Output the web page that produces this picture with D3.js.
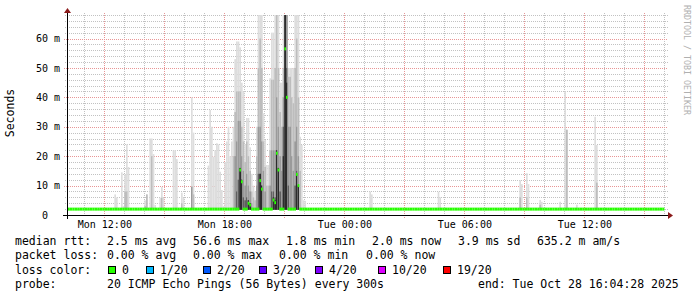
<!DOCTYPE html>
<html>
<head>
<meta charset="utf-8">
<script src="https://cdn.jsdelivr.net/npm/d3@7"></script>
<style>
body { margin: 0; background: #fff; }
text { font-family: "DejaVu Sans Mono", monospace; }
</style>
</head>
<body>
<div id="chart"></div>
<script>
// time window of the graph (day-of-month + time, Oct 2025)
const startTime = "27 10:08";
const endTime = "28 16:08";

// y axis labels (ms)
const yTicks = [0, 10, 20, 30, 40, 50, 60];

// median rtt baseline (ms) and the steps where it moved off the baseline
const medianBase = 2.0;
const medianTimes = ["27 18:45", "27 18:50", "27 19:10", "27 19:15", "27 19:45", "27 19:50",
  "27 20:25", "27 20:30", "27 20:35", "27 20:40", "27 21:00", "27 21:05", "27 21:35", "27 21:40"];
const medianValues = [15.3, 11.3, 4.0, 3.4, 11.7, 8.8, 5.1, 4.2, 21, 15.3, 56.5, 40, 13.8, 10];

// smoke: 5 minute steps, band tops in ms from outer (light) to inner (dark)
const smokeTimes = [
  "27 12:30", "27 12:35", "27 12:50", "27 12:55", "27 13:00", "27 13:05", "27 13:10",
  "27 14:00", "27 14:05", "27 14:15", "27 14:20", "27 14:25", "27 14:30",
  "27 14:45", "27 14:50", "27 14:55", "27 15:25", "27 15:30", "27 15:35", "27 15:50", "27 15:55",
  "27 16:20", "27 16:25",
  "27 17:10", "27 17:15", "27 17:20", "27 17:25", "27 17:30", "27 17:35", "27 17:40", "27 17:45", "27 17:50", "27 17:55",
  "27 18:00", "27 18:05", "27 18:10", "27 18:15", "27 18:20", "27 18:25", "27 18:30", "27 18:35", "27 18:40",
  "27 18:45", "27 18:50", "27 18:55", "27 19:00", "27 19:05", "27 19:10", "27 19:15", "27 19:20", "27 19:25",
  "27 19:30", "27 19:35", "27 19:40", "27 19:45", "27 19:50", "27 19:55", "27 20:00", "27 20:05", "27 20:10",
  "27 20:15", "27 20:20", "27 20:25", "27 20:30", "27 20:35", "27 20:40", "27 20:45", "27 20:50", "27 20:55",
  "27 21:00", "27 21:05", "27 21:10", "27 21:15", "27 21:20", "27 21:25", "27 21:30", "27 21:35", "27 21:40",
  "27 21:45", "27 21:50", "27 21:55", "27 22:00",
  "28 01:15", "28 01:20", "28 04:40", "28 04:45",
  "28 08:45", "28 08:50", "28 09:05", "28 09:10", "28 09:45", "28 09:50", "28 10:45",
  "28 11:00", "28 11:05", "28 11:35", "28 12:30", "28 12:35"
];
const smokeBands = [
  [7], [6], [14.5], [3], [13.8, 8], [24, 8], [16.3],
  [5, 3], [7, 7], [26], [26, 20], [20.7], [3.4],
  [5.9], [9.5, 5.9], [5.9], [22], [22], [19], [7.6, 4], [5.9],
  [40, 9.6, 9.6], [28, 7],
  [16.8], [35.7], [30], [19.8], [22], [24.4], [24], [14.7], [8.5], [3],
  [18], [25], [30], [20], [25], [30, 20], [53, 35, 20], [59, 42, 25, 8], [59, 42, 32, 12],
  [57, 42, 32, 16, 16], [45, 30, 20, 12, 12], [42, 25, 15, 6], [24, 18, 10, 5], [33, 25, 14, 6],
  [33, 20, 10, 5, 5], [23, 15, 8, 4, 4], [14, 8, 4], [10, 6],
  [8, 5], [30, 20, 10], [68, 50, 30, 14], [68, 60, 30, 14, 14], [68, 50, 25, 10, 10],
  [34.6, 25, 15], [25.5, 16.4, 8], [17, 10], [17, 10],
  [46.5, 22, 10], [62, 46, 22, 8], [62, 46, 22, 8, 6], [68, 50, 22, 6, 5], [68, 68, 40, 22, 22],
  [68, 50, 30, 16, 16], [45, 35, 20, 8], [45, 30, 15], [68, 50, 40, 30, 20],
  [68, 68, 68, 68, 68], [68, 68, 68, 50, 45], [50, 47, 30, 10], [50, 47, 30], [50, 40, 20],
  [50, 38, 15], [68, 50, 25, 10], [68, 60, 30, 15, 14], [68, 40, 20, 10, 10],
  [26.6, 15], [23.8], [5], [4.8],
  [8], [7], [7.9], [6],
  [11.8, 6], [10.5], [14.2, 6], [10.5], [5.1, 3.5], [4.5], [4.5],
  [42], [29, 29], [3.5], [33.4], [23.8, 11]
];
const smokeFloor = 1.8;

// legend
const rttItems = ["2.5 ms avg", "56.6 ms max", "1.8 ms min", "2.0 ms now", "3.9 ms sd", "635.2 m am/s"];
const lossItems = ["0.00 % avg", "0.00 % max", "0.00 % min", "0.00 % now"];
const lossLabels = ["0", "1/20", "2/20", "3/20", "4/20", "10/20", "19/20"];
const lossColors = ["#26ff00", "#00b8ff", "#0059ff", "#5e00ff", "#7e00ff", "#dd00ff", "#ff0000"];
const probeText = "20 ICMP Echo Pings (56 Bytes) every 300s";
const endText = "end: Tue Oct 28 16:04:28 2025";

const width = 697, height = 297;
const plotLeft = 67, plotRight = 667, plotTop = 15, plotBottom = 215;
const shades = ["#dddddd", "#bdbdbd", "#9a9a9a", "#606060", "#2c2c2c"];

const parse = s => d3.timeParse("%Y-%m-%d %H:%M")("2025-10-" + s);
const t0 = parse(startTime), t1 = parse(endTime);

const x = d3.scaleTime().domain([t0, t1]).range([plotLeft, plotRight]);
const y = d3.scaleLinear().domain([0, 68]).range([plotBottom, plotTop]).clamp(true);

const svg = d3.select("#chart").append("svg")
  .attr("width", width)
  .attr("height", height);

// grid
const grid = svg.append("g").attr("shape-rendering", "crispEdges");
const hours = d3.timeHour.every(1).range(t0, t1);
grid.selectAll(".vmin").data(hours.filter(d => d.getHours() % 3 !== 0)).enter().append("line")
  .attr("x1", d => Math.round(x(d)) + 0.5).attr("x2", d => Math.round(x(d)) + 0.5)
  .attr("y1", 13).attr("y2", plotBottom + 2)
  .attr("stroke", "#c2c2c2").attr("stroke-dasharray", "1,1");
grid.selectAll(".hmin").data(y.ticks(34).filter(d => d % 10 !== 0)).enter().append("line")
  .attr("x1", plotLeft - 2).attr("x2", plotRight + 1)
  .attr("y1", d => Math.round(y(d)) + 0.5).attr("y2", d => Math.round(y(d)) + 0.5)
  .attr("stroke", "#c2c2c2").attr("stroke-dasharray", "1,1");
grid.selectAll(".vmaj").data(x.ticks(d3.timeHour.every(3))).enter().append("line")
  .attr("x1", d => Math.round(x(d)) + 0.5).attr("x2", d => Math.round(x(d)) + 0.5)
  .attr("y1", 13).attr("y2", plotBottom + 3)
  .attr("stroke", "#e89696").attr("stroke-dasharray", "1,1");
grid.selectAll(".hmaj").data(yTicks.filter(d => d > 0)).enter().append("line")
  .attr("x1", plotLeft - 3).attr("x2", plotRight + 1)
  .attr("y1", d => Math.round(y(d)) + 0.5).attr("y2", d => Math.round(y(d)) + 0.5)
  .attr("stroke", "#e89696").attr("stroke-dasharray", "1,1");

// smoke
const step = 5 * 60 * 1000;
const smoke = svg.append("g");
smokeTimes.forEach((s, i) => {
  const t = parse(s);
  const x0 = x(t), x1 = x(new Date(+t + step));
  smokeBands[i].forEach((v, j) => {
    smoke.append("rect")
      .attr("x", x0).attr("width", x1 - x0)
      .attr("y", y(v)).attr("height", y(smokeFloor) - y(v))
      .attr("fill", shades[j]);
  });
});

// median line, drawn per step like smokeping
const medianSteps = d3.timeMinute.every(5).range(d3.timeMinute.offset(t0, -3), d3.timeMinute.offset(t1, -8));
const medianAt = new Map(medianTimes.map((s, i) => [+parse(s), medianValues[i]]));
svg.append("g").selectAll("rect").data(medianSteps).enter().append("rect")
  .attr("x", d => Math.max(plotLeft, x(d)))
  .attr("width", d => x(new Date(+d + step)) - Math.max(plotLeft, x(d)))
  .attr("y", d => y(medianAt.has(+d) ? medianAt.get(+d) : medianBase) - 1.5)
  .attr("height", 3)
  .attr("fill", lossColors[0]);

// axes
const xAxis = svg.append("g")
  .attr("transform", `translate(0,${plotBottom})`)
  .call(d3.axisBottom(x).ticks(d3.timeHour.every(6)).tickSize(0).tickPadding(6)
    .tickFormat(d3.timeFormat("%a %H:%M")));
xAxis.select(".domain").remove();
xAxis.selectAll("text").attr("font-size", 10).attr("font-family", "DejaVu Sans Mono").attr("fill", "#000");

const yAxis = svg.append("g")
  .attr("transform", `translate(${plotLeft},0)`)
  .call(d3.axisLeft(y).tickValues(yTicks).tickSize(0).tickPadding(7)
    .tickFormat(d => d === 0 ? "0" : d + " m"));
yAxis.select(".domain").remove();
yAxis.selectAll("text").attr("font-size", 10).attr("font-family", "DejaVu Sans Mono").attr("fill", "#000")
  .attr("x", d => d === 0 ? -19 : -7);

svg.append("line").attr("x1", 63).attr("x2", 668).attr("y1", plotBottom + 0.5).attr("y2", plotBottom + 0.5)
  .attr("stroke", "#000").attr("shape-rendering", "crispEdges");
svg.append("line").attr("x1", plotLeft + 0.5).attr("x2", plotLeft + 0.5).attr("y1", 12).attr("y2", plotBottom + 4)
  .attr("stroke", "#000").attr("shape-rendering", "crispEdges");
svg.append("path").attr("d", `M668,212L673,215.5L668,219Z`).attr("fill", "#8b1a1a");
svg.append("path").attr("d", `M64,13L67.5,8L71,13Z`).attr("fill", "#8b1a1a");

// titles
svg.append("text")
  .attr("transform", "translate(14,113) rotate(-90)")
  .attr("text-anchor", "middle")
  .attr("font-size", 11.5)
  .text("Seconds");
svg.append("text")
  .attr("transform", "translate(684,5) rotate(90)")
  .attr("font-size", 8.3)
  .attr("fill", "#b0b0b0")
  .text("RRDTOOL / TOBI OETIKER");

// legend
const lg = svg.append("g").attr("font-size", 11.5).attr("fill", "#000");
const line = (yy, items) => items.forEach(([xx, s]) =>
  lg.append("text").attr("x", xx).attr("y", yy).style("white-space", "pre").text(s));

line(244.5, [[15, "median rtt:"]].concat(rttItems.map((s, i) => [[107, 193, 286, 372, 458, 537][i], s])));
line(259, [[15, "packet loss:"]].concat(lossItems.map((s, i) => [[107, 193, 279, 366][i], s])));
line(273.5, [[15, "loss color:"]]);
const boxX = [108, 146, 203, 259, 315, 378, 443];
lossLabels.forEach((s, i) => {
  lg.append("rect").attr("x", boxX[i] + 0.5).attr("y", 266.5).attr("width", 7).attr("height", 7)
    .attr("fill", lossColors[i]).attr("stroke", "#000").attr("shape-rendering", "crispEdges");
  lg.append("text").attr("x", boxX[i] + 14).attr("y", 273.5).text(s);
});
line(288, [[15, "probe:"], [107, probeText], [478, endText]]);
</script>
</body>
</html>
